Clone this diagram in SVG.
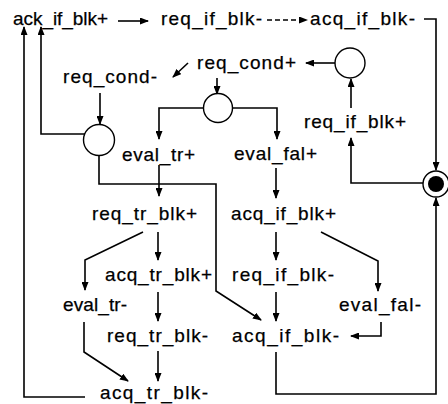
<svg xmlns="http://www.w3.org/2000/svg" width="448" height="404" viewBox="0 0 448 404">
<style>
text{font-family:"Liberation Sans",Arial,Helvetica,sans-serif;font-size:19px;fill:#000;stroke:#000;stroke-width:0.25}
.c{fill:none;stroke:#000;stroke-width:1.6;marker-end:url(#ah)}
.d{stroke-dasharray:5 3}
.ring{fill:#fff;stroke:#000;stroke-width:1.4}
</style>
<defs>
<marker id="ah" markerUnits="userSpaceOnUse" markerWidth="9" markerHeight="7" refX="8" refY="3.5" orient="auto">
<path d="M0,0 L9,3.5 L0,7 z" fill="#000"/>
</marker>
</defs>
<rect width="448" height="404" fill="#fff"/>
<g id="connectors">
<path class="c" d="M118,21 H148"/>
<path class="c d" d="M267,20 H307"/>
<path class="c" d="M424,19 H436 V170"/>
<path class="c" d="M351,108 V79"/>
<path class="c" d="M335,63 H306"/>
<path class="c" d="M188,63 L173,77"/>
<path class="c" d="M217,78 V94"/>
<path class="c" d="M100,93 V124"/>
<path class="c" d="M204,108 H159 V139"/>
<path class="c" d="M232,108 H277 V139"/>
<path class="c" d="M85,134 H41 V27"/>
<path class="c" d="M99,155 V184 H216 V291 L261,320"/>
<path class="c" d="M159,165 V196"/>
<path class="c" d="M276,168 V198"/>
<path class="c" d="M143,232 L85,260 V290"/>
<path class="c" d="M158,232 V260"/>
<path class="c" d="M158,292 V321"/>
<path class="c" d="M158,351 V381"/>
<path class="c" d="M84,322 V352 L128,381"/>
<path class="c" d="M85,397 H24 V27"/>
<path class="c" d="M276,232 V260"/>
<path class="c" d="M321,232 L378,261 V291"/>
<path class="c" d="M276,292 V321"/>
<path class="c" d="M381,322 V336 H351"/>
<path class="c" d="M276,352 V394 H436 V198"/>
<path class="c" d="M423,183 H351 V138"/>
</g>
<g id="n_ack_if_blk_p"><text x="13" y="25" textLength="95" lengthAdjust="spacing">ack_if_blk+</text></g>
<g id="n_req_if_blk_m_top"><text x="161" y="25" textLength="101" lengthAdjust="spacing">req_if_blk-</text></g>
<g id="n_acq_if_blk_m_top"><text x="310" y="25" textLength="105" lengthAdjust="spacing">acq_if_blk-</text></g>
<g id="n_req_cond_m"><text x="63" y="83" textLength="94" lengthAdjust="spacing">req_cond-</text></g>
<g id="n_req_cond_p"><text x="197" y="69" textLength="99" lengthAdjust="spacing">req_cond+</text></g>
<g id="n_req_if_blk_p"><text x="304" y="128" textLength="102" lengthAdjust="spacing">req_if_blk+</text></g>
<g id="n_eval_tr_p"><text x="122" y="161" textLength="73" lengthAdjust="spacing">eval_tr+</text></g>
<g id="n_eval_fal_p"><text x="234" y="160" textLength="83" lengthAdjust="spacing">eval_fal+</text></g>
<g id="n_req_tr_blk_p"><text x="92" y="220" textLength="105" lengthAdjust="spacing">req_tr_blk+</text></g>
<g id="n_acq_if_blk_p"><text x="231" y="220" textLength="105" lengthAdjust="spacing">acq_if_blk+</text></g>
<g id="n_acq_tr_blk_p"><text x="105" y="281" textLength="107" lengthAdjust="spacing">acq_tr_blk+</text></g>
<g id="n_req_if_blk_m"><text x="232" y="281" textLength="102" lengthAdjust="spacing">req_if_blk-</text></g>
<g id="n_eval_tr_m"><text x="63" y="311" textLength="64" lengthAdjust="spacing">eval_tr-</text></g>
<g id="n_eval_fal_m"><text x="339" y="311" textLength="82" lengthAdjust="spacing">eval_fal-</text></g>
<g id="n_req_tr_blk_m"><text x="107" y="342" textLength="101" lengthAdjust="spacing">req_tr_blk-</text></g>
<g id="n_acq_if_blk_m"><text x="232" y="342" textLength="107" lengthAdjust="spacing">acq_if_blk-</text></g>
<g id="n_acq_tr_blk_m"><text x="100" y="399" textLength="108" lengthAdjust="spacing">acq_tr_blk-</text></g>
<g id="p_top"><circle class="ring" cx="350" cy="63" r="15"/></g>
<g id="p_mid"><circle class="ring" cx="218" cy="108" r="14.5"/></g>
<g id="p_left"><circle class="ring" cx="99" cy="140" r="15.5"/></g>
<g id="p_marked"><circle class="ring" cx="436" cy="184" r="13"/><circle cx="436" cy="184" r="8" fill="#000"/></g>
</svg>
